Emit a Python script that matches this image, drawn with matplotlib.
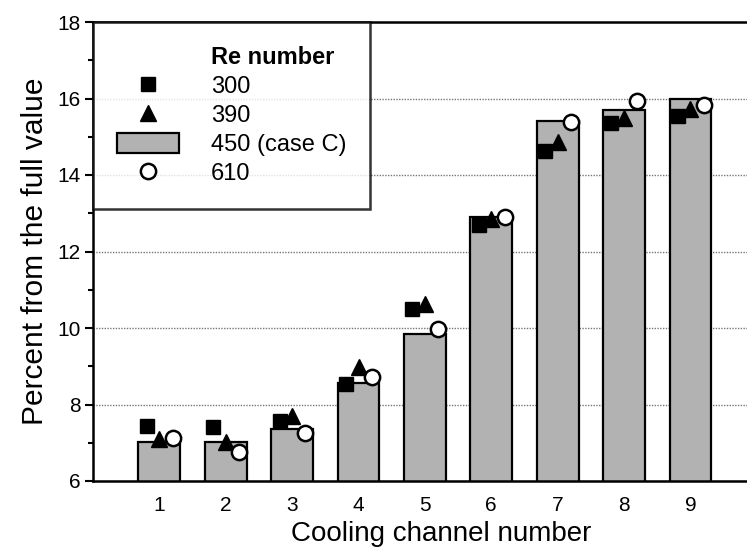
import numpy as np
import matplotlib
matplotlib.use("Agg")
from matplotlib import pyplot as plt
from matplotlib.lines import Line2D
from matplotlib.patches import Patch

# cooling channel numbers and percent values per Re number
channels = [1, 2, 3, 4, 5, 6, 7, 8, 9]
re_450 = [7.02, 7.02, 7.35, 8.57, 9.84, 12.90, 15.41, 15.70, 15.98]
re_300 = [7.44, 7.41, 7.57, 8.54, 10.50, 12.70, 14.62, 15.35, 15.54]
re_390 = [7.10, 7.02, 7.70, 8.99, 10.63, 12.86, 14.86, 15.48, 15.72]
re_610 = [7.13, 6.76, 7.26, 8.72, 9.98, 12.90, 15.38, 15.93, 15.83]
legend_title = "Re number"
legend_labels = ["300", "390", "450 (case C)", "610"]

plt.rcParams["font.family"] = ["Liberation Sans", "DejaVu Sans"]
bar_gray = "#b2b2b2"

fig = plt.figure(figsize=(7.47, 5.47), dpi=100)
# the axes run past the right edge of the figure
ax = fig.add_axes([93 / 747, 66 / 547, 697 / 747, 459 / 547])

x = np.array(channels, dtype=float)
ax.bar(x, re_450, width=0.63, color=bar_gray, edgecolor="black",
       linewidth=1.6, zorder=2)
ax.plot(x - 0.19, re_300, "s", color="black", markersize=10, zorder=3)
ax.plot(x, re_390, "^", color="black", markersize=12, zorder=4)
ax.plot(x + 0.2, re_610, "o", markerfacecolor="white", markeredgecolor="black",
        markeredgewidth=1.8, markersize=11, zorder=5)

ax.set_xlim(0, 10.5)
ax.set_ylim(6, 18)
ax.set_xticks(channels)
ax.set_yticks(np.arange(6, 19, 2))
ax.set_yticks(np.arange(7, 18, 2), minor=True)
ax.tick_params(axis="x", length=0, pad=11, labelsize=15)
ax.tick_params(axis="y", which="major", length=6, width=1.5, direction="out",
               labelsize=15, pad=3)
ax.tick_params(axis="y", which="minor", length=3.5, width=1.5, direction="out")
for s in ax.spines.values():
    s.set_linewidth(1.8)

ax.yaxis.grid(True, which="major", linestyle=(0, (1, 1)), color="#777777",
              linewidth=1.0, zorder=0)
ax.set_axisbelow(True)

ax.set_xlabel("Cooling channel number", fontsize=20, labelpad=4)
ax.set_ylabel("Percent from the full value", fontsize=21.5, labelpad=6)

# legend: first row is the bold heading with an empty handle
handles = [
    Line2D([], [], linestyle="none"),
    Line2D([], [], marker="s", color="black", linestyle="none", markersize=10),
    Line2D([], [], marker="^", color="black", linestyle="none", markersize=12),
    Patch(facecolor=bar_gray, edgecolor="black", linewidth=1.6),
    Line2D([], [], marker="o", markerfacecolor="white", markeredgecolor="black",
           markeredgewidth=1.8, linestyle="none", markersize=11),
]
leg = ax.legend(handles, [legend_title] + legend_labels, loc="upper left",
                bbox_to_anchor=(0, 1), borderaxespad=0, fontsize=17,
                frameon=True, fancybox=False, edgecolor="black",
                handlelength=2.63, handleheight=0.9, handletextpad=1.36,
                labelspacing=0.26, borderpad=1.0)
leg.get_texts()[0].set_fontweight("bold")
leg.get_frame().set_linewidth(1.8)
leg.set_zorder(6)

fig.savefig("out.png", dpi=100)
